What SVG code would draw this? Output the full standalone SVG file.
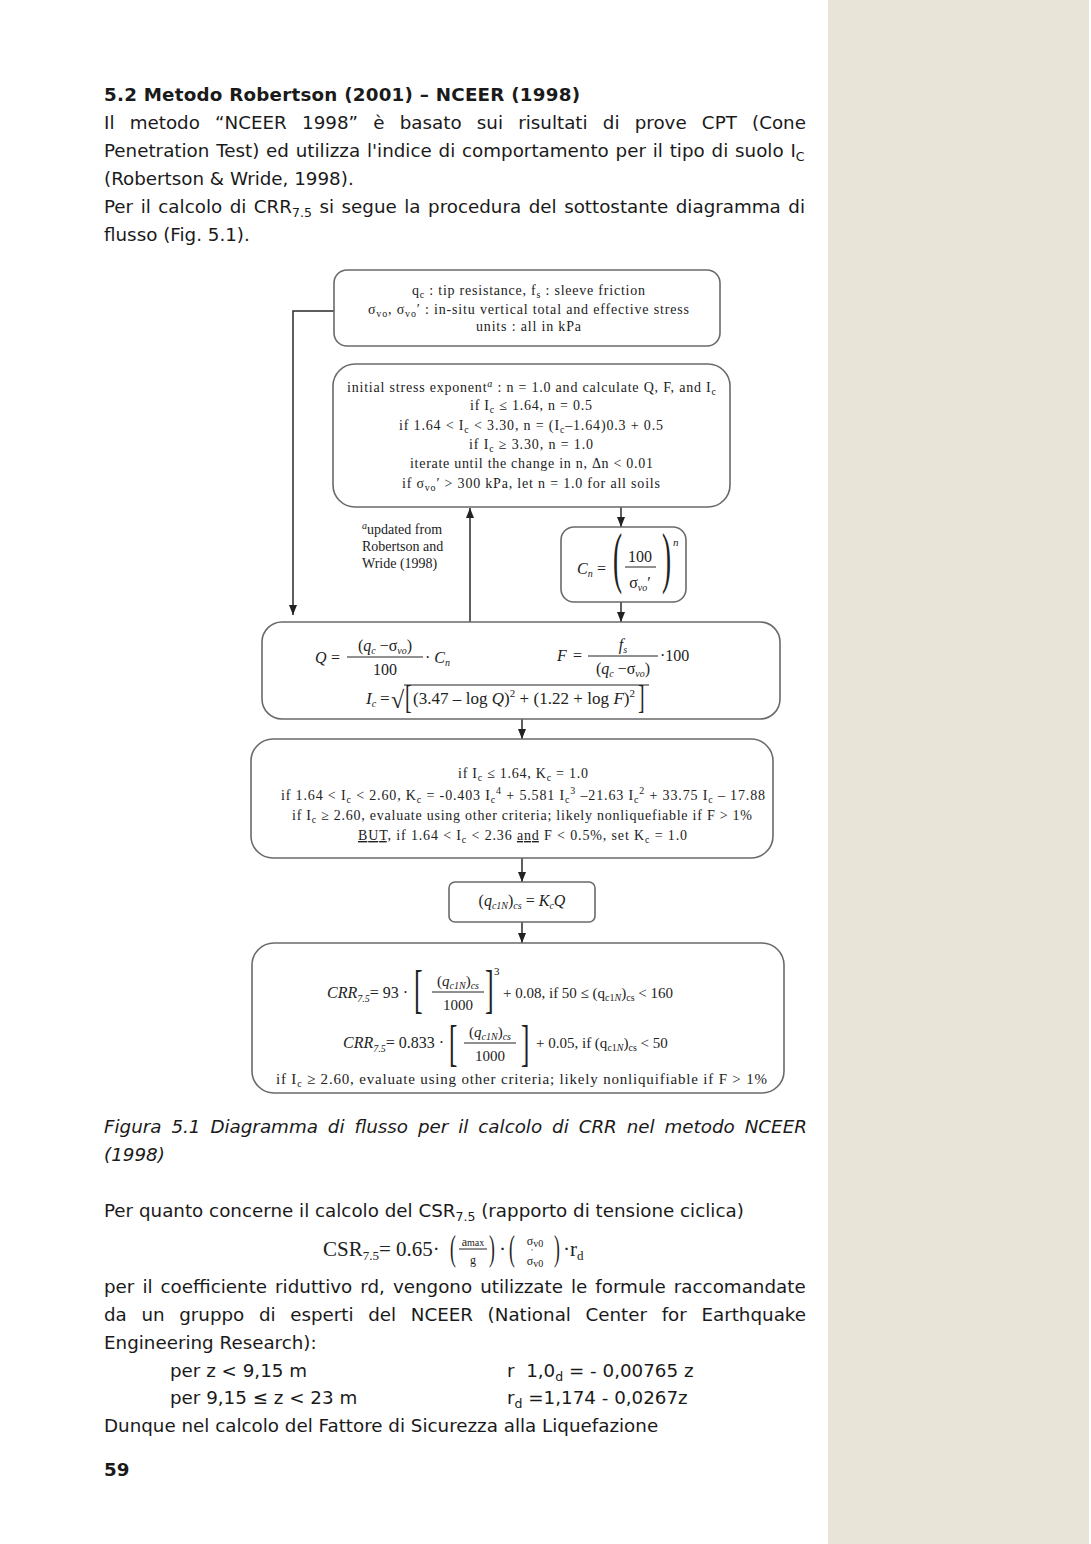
<svg xmlns="http://www.w3.org/2000/svg" width="1091" height="1544" viewBox="0 0 1091 1544">
<defs>
<marker id="ah" viewBox="0 0 10 8" refX="10" refY="4" markerWidth="10" markerHeight="8" markerUnits="userSpaceOnUse" orient="auto"><path d="M0,0 L10,4 L0,8 z" fill="#222"/></marker>
<style>
.body{font-family:"DejaVu Sans",Verdana,sans-serif;font-size:18.3px;fill:#1a1a1a}
.b{font-weight:bold}
.ital{font-style:italic}
.fc{font-family:"Liberation Serif","Times New Roman",serif;font-size:14px;fill:#222}
.fm{font-family:"Liberation Serif","Times New Roman",serif;font-size:16px;fill:#222}
.i{font-style:italic}
.sub{font-size:10px}
.bsub{font-size:12.5px}
.box{fill:#fff;stroke:#6a6a6a;stroke-width:1.6}
.conn{stroke:#2a2a2a;stroke-width:1.5;fill:none}
.bar{stroke:#222;stroke-width:1}
</style>
</defs>
<rect x="0" y="0" width="1091" height="1544" fill="#fff"/>
<rect x="828" y="0" width="261" height="1544" fill="#E9E4D8"/>

<g id="body-text">
<text class="body b" x="104" y="101" textLength="476">5.2 Metodo Robertson (2001) – NCEER (1998)</text>
<text class="body" x="104" y="129" word-spacing="9.4">Il metodo “NCEER 1998” è basato sui risultati di prove CPT (Cone</text>
<text class="body" x="104" y="157" word-spacing="1.0">Penetration Test) ed utilizza l'indice di comportamento per il tipo di suolo I<tspan class="bsub" dy="4">C</tspan></text>
<text class="body" x="104" y="185">(Robertson &amp; Wride, 1998).</text>
<text class="body" x="104" y="213" word-spacing="1.7">Per il calcolo di CRR<tspan class="bsub" dy="4">7.5</tspan><tspan dy="-4"> si segue la procedura del sottostante diagramma di</tspan></text>
<text class="body" x="104" y="241">flusso (Fig. 5.1).</text>

<text class="body ital" x="104" y="1133" word-spacing="4.1">Figura 5.1 Diagramma di flusso per il calcolo di CRR nel metodo NCEER</text>
<text class="body ital" x="104" y="1161">(1998)</text>

<text class="body" x="104" y="1217">Per quanto concerne il calcolo del CSR<tspan class="bsub" dy="4">7.5</tspan><tspan dy="-4"> (rapporto di tensione ciclica)</tspan></text>

<text class="body" x="104" y="1293" word-spacing="2.2">per il coefficiente riduttivo rd, vengono utilizzate le formule raccomandate</text>
<text class="body" x="104" y="1321" word-spacing="8.8">da un gruppo di esperti del NCEER (National Center for Earthquake</text>
<text class="body" x="104" y="1349">Engineering Research):</text>
<text class="body" x="170" y="1377">per z &lt; 9,15 m</text>
<text class="body" x="507" y="1377">r&#160; 1,0<tspan class="bsub" dy="4">d</tspan><tspan dy="-4"> = - 0,00765 z</tspan></text>
<text class="body" x="170" y="1404">per 9,15 ≤ z &lt; 23 m</text>
<text class="body" x="507" y="1404">r<tspan class="bsub" dy="4">d</tspan><tspan dy="-4"> =1,174 - 0,0267z</tspan></text>
<text class="body" x="104" y="1432">Dunque nel calcolo del Fattore di Sicurezza alla Liquefazione</text>
<text class="body b" x="104" y="1476">59</text>
</g>

<g id="csr-formula">
<text class="fm" x="323" y="1256" style="font-size:21px">CSR<tspan font-size="13" dy="4">7.5</tspan><tspan dy="-4">= 0.65·</tspan></text>
<text class="fm" style="font-size:35px" transform="translate(450,1260) scale(0.5,1)">(</text>
<text class="fm" x="473" y="1246" style="font-size:12px" text-anchor="middle">a<tspan font-size="10">max</tspan></text>
<line class="bar" x1="459" y1="1249" x2="487" y2="1249"/>
<text class="fm" x="473" y="1264" style="font-size:12px" text-anchor="middle">g</text>
<text class="fm" style="font-size:35px" transform="translate(489,1260) scale(0.5,1)">)</text>
<text class="fm" x="499" y="1256" style="font-size:21px">·</text>
<text class="fm" style="font-size:35px" transform="translate(509,1260) scale(0.5,1)">(</text>
<text class="fm" x="535" y="1245" style="font-size:12px" text-anchor="middle">σ<tspan font-size="10" dy="2">v0</tspan></text>
<text class="fm" x="532" y="1255" style="font-size:8px" text-anchor="middle">′</text>
<text class="fm" x="535" y="1265" style="font-size:12px" text-anchor="middle">σ<tspan font-size="10" dy="2">v0</tspan></text>
<text class="fm" style="font-size:35px" transform="translate(554,1260) scale(0.5,1)">)</text>
<text class="fm" x="563" y="1256" style="font-size:21px">·r<tspan font-size="13" dy="4">d</tspan></text>
</g>

<g id="connectors">
<path class="conn" d="M334,311 H293 V615" marker-end="url(#ah)"/>
<path class="conn" d="M470,622 V508" marker-end="url(#ah)"/>
<path class="conn" d="M621,507 V527" marker-end="url(#ah)"/>
<path class="conn" d="M621,602 V622" marker-end="url(#ah)"/>
<path class="conn" d="M522,719 V739" marker-end="url(#ah)"/>
<path class="conn" d="M522,858 V882" marker-end="url(#ah)"/>
<path class="conn" d="M522,922 V943" marker-end="url(#ah)"/>
</g>

<g id="node-inputs">
<rect class="box" x="334" y="270" width="386" height="76" rx="13"/>
<text class="fc" x="412" y="295" textLength="233">q<tspan class="sub" dy="3">c</tspan><tspan dy="-3"> : tip resistance, f</tspan><tspan class="sub" dy="3">s</tspan><tspan dy="-3"> : sleeve friction</tspan></text>
<text class="fc" x="368" y="314" textLength="321">σ<tspan class="sub" dy="3">vo</tspan><tspan dy="-3">, σ</tspan><tspan class="sub" dy="3">vo</tspan><tspan dy="-3">′ : in-situ vertical total and effective stress</tspan></text>
<text class="fc" x="476" y="331" textLength="105">units : all in kPa</text>
</g>

<g id="node-exponent">
<rect class="box" x="333" y="364" width="397" height="143" rx="22"/>
<text class="fc" x="347" y="392" textLength="369">initial stress exponent<tspan class="i sub" dy="-5">a</tspan><tspan dy="5"> : n = 1.0 and calculate Q, F, and I</tspan><tspan class="sub" dy="3">c</tspan></text>
<text class="fc" x="470" y="410" textLength="122">if I<tspan class="sub" dy="3">c</tspan><tspan dy="-3"> ≤ 1.64, n = 0.5</tspan></text>
<text class="fc" x="399" y="430" textLength="264">if 1.64 &lt; I<tspan class="sub" dy="3">c</tspan><tspan dy="-3"> &lt; 3.30, n = (I</tspan><tspan class="sub" dy="3">c</tspan><tspan dy="-3">–1.64)0.3 + 0.5</tspan></text>
<text class="fc" x="469" y="449" textLength="124">if I<tspan class="sub" dy="3">c</tspan><tspan dy="-3"> ≥ 3.30, n = 1.0</tspan></text>
<text class="fc" x="410" y="468" textLength="243">iterate until the change in n, Δn &lt; 0.01</text>
<text class="fc" x="402" y="488" textLength="258">if σ<tspan class="sub" dy="3">vo</tspan><tspan dy="-3">′ &gt; 300 kPa, let n = 1.0 for all soils</tspan></text>
</g>

<g id="note">
<text class="fc" x="362" y="534"><tspan class="i sub" dy="-5">a</tspan><tspan dy="5">updated from</tspan></text>
<text class="fc" x="362" y="551">Robertson and</text>
<text class="fc" x="362" y="568">Wride (1998)</text>
</g>

<g id="node-cn">
<rect class="box" x="561" y="527" width="125" height="75" rx="13"/>
<text class="fm i" x="577" y="574">C<tspan class="sub" dy="3">n</tspan></text>
<text class="fm" x="597" y="574">=</text>
<text class="fm" style="font-size:68px" transform="translate(613,580) scale(0.4,1)">(</text>
<text class="fm" x="640" y="562" text-anchor="middle">100</text>
<line class="bar" x1="625" y1="567" x2="656" y2="567"/>
<text class="fm" x="640" y="588" text-anchor="middle">σ<tspan class="i sub" dy="3">vo</tspan><tspan dy="-3">′</tspan></text>
<text class="fm" style="font-size:68px" transform="translate(662,580) scale(0.4,1)">)</text>
<text class="fm i" x="673" y="546" style="font-size:11px">n</text>
</g>

<g id="node-qf">
<rect class="box" x="262" y="622" width="518" height="97" rx="20"/>
<text class="fm i" x="315" y="663">Q</text>
<text class="fm" x="331" y="663">=</text>
<text class="fm" x="385" y="651" text-anchor="middle">(<tspan class="i">q</tspan><tspan class="i sub" dy="3">c</tspan><tspan dy="-3"> −σ</tspan><tspan class="i sub" dy="3">vo</tspan><tspan dy="-3">)</tspan></text>
<line class="bar" x1="347" y1="657" x2="423" y2="657"/>
<text class="fm" x="385" y="675" text-anchor="middle">100</text>
<text class="fm" x="425" y="663">·<tspan class="i"> C</tspan><tspan class="i sub" dy="3">n</tspan></text>

<text class="fm i" x="557" y="661">F</text>
<text class="fm" x="573" y="661">=</text>
<text class="fm i" x="623" y="650" text-anchor="middle">f<tspan class="sub" dy="3">s</tspan></text>
<line class="bar" x1="588" y1="656" x2="658" y2="656"/>
<text class="fm" x="623" y="674" text-anchor="middle">(<tspan class="i">q</tspan><tspan class="i sub" dy="3">c</tspan><tspan dy="-3"> −σ</tspan><tspan class="i sub" dy="3">vo</tspan><tspan dy="-3">)</tspan></text>
<text class="fm" x="660" y="661">·100</text>

<text class="fm i" x="366" y="704" style="font-size:17px">I<tspan class="sub" dy="3">c</tspan></text>
<text class="fm" x="380" y="704" style="font-size:17px">=</text>
<text class="fm" x="391" y="708" style="font-size:24px">√</text>
<line class="bar" x1="404" y1="685" x2="649" y2="685"/>
<text class="fm" style="font-size:33px" transform="translate(405,708) scale(0.6,1)">[</text>
<text class="fm" x="413" y="704" style="font-size:17px" textLength="222">(3.47 – log <tspan class="i">Q</tspan>)<tspan font-size="11" dy="-7">2</tspan><tspan dy="7"> + (1.22 + log </tspan><tspan class="i">F</tspan>)<tspan font-size="11" dy="-7">2</tspan></text>
<text class="fm" style="font-size:33px" transform="translate(638,708) scale(0.6,1)">]</text>
</g>

<g id="node-kc">
<rect class="box" x="251" y="739" width="522" height="119" rx="22"/>
<text class="fc" x="458" y="778" textLength="130">if I<tspan class="sub" dy="3">c</tspan><tspan dy="-3"> ≤ 1.64, K</tspan><tspan class="sub" dy="3">c</tspan><tspan dy="-3"> = 1.0</tspan></text>
<text class="fc" x="281" y="800" textLength="484">if 1.64 &lt; I<tspan class="sub" dy="3">c</tspan><tspan dy="-3"> &lt; 2.60, K</tspan><tspan class="sub" dy="3">c</tspan><tspan dy="-3"> = -0.403 I</tspan><tspan class="sub" dy="3">c</tspan><tspan class="sub" dy="-9">4</tspan><tspan dy="6"> + 5.581 I</tspan><tspan class="sub" dy="3">c</tspan><tspan class="sub" dy="-9">3</tspan><tspan dy="6"> –21.63 I</tspan><tspan class="sub" dy="3">c</tspan><tspan class="sub" dy="-9">2</tspan><tspan dy="6"> + 33.75 I</tspan><tspan class="sub" dy="3">c</tspan><tspan dy="-3"> – 17.88</tspan></text>
<text class="fc" x="292" y="820" textLength="460">if I<tspan class="sub" dy="3">c</tspan><tspan dy="-3"> ≥ 2.60, evaluate using other criteria; likely nonliquefiable if F &gt; 1%</tspan></text>
<text class="fc" x="358" y="840" textLength="329"><tspan text-decoration="underline">BUT</tspan>, if 1.64 &lt; I<tspan class="sub" dy="3">c</tspan><tspan dy="-3"> &lt; 2.36 </tspan><tspan text-decoration="underline">and</tspan> F &lt; 0.5%, set K<tspan class="sub" dy="3">c</tspan><tspan dy="-3"> = 1.0</tspan></text>
</g>

<g id="node-qc1n">
<rect class="box" x="449" y="882" width="146" height="40" rx="6"/>
<text class="fm" x="522" y="906" text-anchor="middle">(<tspan class="i">q</tspan><tspan class="i sub" dy="3">c1N</tspan><tspan dy="-3">)</tspan><tspan class="i sub" dy="3">cs</tspan><tspan dy="-3"> = </tspan><tspan class="i">K</tspan><tspan class="i sub" dy="3">c</tspan><tspan class="i" dy="-3">Q</tspan></text>
</g>

<g id="node-crr">
<rect class="box" x="252" y="943" width="532" height="150" rx="22"/>
<text class="fm" x="327" y="998"><tspan class="i">CRR</tspan><tspan class="i sub" dy="4">7.5</tspan><tspan dy="-4">= 93 ·</tspan></text>
<text class="fm" style="font-size:52px" transform="translate(414,1007) scale(0.5,1)">[</text>
<text class="fm" x="458" y="986" text-anchor="middle" style="font-size:15px">(<tspan class="i">q</tspan><tspan class="i sub" dy="3">c1N</tspan><tspan dy="-3">)</tspan><tspan class="i sub" dy="3">cs</tspan></text>
<line class="bar" x1="432" y1="992" x2="484" y2="992"/>
<text class="fm" x="458" y="1010" text-anchor="middle" style="font-size:15px">1000</text>
<text class="fm" style="font-size:52px" transform="translate(485,1007) scale(0.5,1)">]</text>
<text class="fm" x="494" y="975" style="font-size:11px">3</text>
<text class="fm" x="503" y="998" style="font-size:15px">+ 0.08, if 50 ≤ (q<tspan class="sub" dy="3">c1<tspan class="i">N</tspan></tspan><tspan dy="-3">)</tspan><tspan class="sub" dy="3">cs</tspan><tspan dy="-3"> &lt; 160</tspan></text>

<text class="fm" x="343" y="1048"><tspan class="i">CRR</tspan><tspan class="i sub" dy="4">7.5</tspan><tspan dy="-4">= 0.833 ·</tspan></text>
<text class="fm" style="font-size:50px" transform="translate(449,1060) scale(0.5,1)">[</text>
<text class="fm" x="490" y="1037" text-anchor="middle" style="font-size:15px">(<tspan class="i">q</tspan><tspan class="i sub" dy="3">c1N</tspan><tspan dy="-3">)</tspan><tspan class="i sub" dy="3">cs</tspan></text>
<line class="bar" x1="464" y1="1043" x2="516" y2="1043"/>
<text class="fm" x="490" y="1061" text-anchor="middle" style="font-size:15px">1000</text>
<text class="fm" style="font-size:50px" transform="translate(521,1060) scale(0.5,1)">]</text>
<text class="fm" x="536" y="1048" style="font-size:15px">+ 0.05, if (q<tspan class="sub" dy="3">c1<tspan class="i">N</tspan></tspan><tspan dy="-3">)</tspan><tspan class="sub" dy="3">cs</tspan><tspan dy="-3"> &lt; 50</tspan></text>

<text class="fm" x="276" y="1084" style="font-size:15px" textLength="491">if I<tspan class="sub" dy="3">c</tspan><tspan dy="-3"> ≥ 2.60, evaluate using other criteria; likely nonliquifiable if F &gt; 1%</tspan></text>
</g>
</svg>
